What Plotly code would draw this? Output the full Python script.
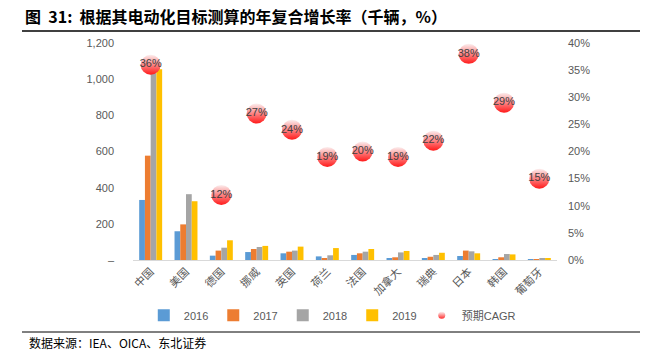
import plotly.graph_objects as go

countries = ["中国", "美国", "德国", "挪威", "英国", "荷兰", "法国", "加拿大", "瑞典", "日本", "韩国", "葡萄牙"]
sales_2016 = [332, 159, 24, 44, 37, 20, 28, 11, 11, 22, 5, 0.8]
sales_2017 = [577, 197, 52, 61, 46, 8, 37, 15, 18, 52, 15, 1.5]
sales_2018 = [1085, 364, 68, 72, 52, 26, 46, 42, 28, 48, 33, 9]
sales_2019 = [1055, 325, 109, 78, 74, 66, 61, 50, 40, 37, 31, 11]
cagr = [0.36, 0.12, 0.27, 0.24, 0.19, 0.20, 0.19, 0.22, 0.38, 0.29, 0.15]
cagr_x = ["中国", "德国", "挪威", "英国", "荷兰", "法国", "加拿大", "瑞典", "日本", "韩国", "葡萄牙"]
cagr_labels = ["36%", "12%", "27%", "24%", "19%", "20%", "19%", "22%", "38%", "29%", "15%"]

left_tickvals = [0, 200, 400, 600, 800, 1000, 1200]
left_ticktext = ["–", "200", "400", "600", "800", "1,000", "1,200"]

years = ["2016", "2017", "2018", "2019"]
series = [sales_2016, sales_2017, sales_2018, sales_2019]
colors = ["#5b9bd5", "#ed7d31", "#a5a5a5", "#ffc000"]

font_cjk = "Noto Sans CJK SC"
grey = "#595959"

fig = go.Figure()
for yr, vals, c in zip(years, series, colors):
    fig.add_trace(go.Bar(x=countries, y=vals, name=yr, marker=dict(color=c, line=dict(width=0)),
                         yaxis="y"))

fig.add_trace(go.Scatter(
    x=cagr_x, y=cagr, yaxis="y2", mode="markers+text", showlegend=False,
    text=cagr_labels, textposition="middle center",
    textfont=dict(family="Arial, Liberation Sans", size=11, color="#404040"),
    marker=dict(size=20, color="#fbefef", line=dict(width=0),
                gradient=dict(type="vertical", color="#ff1a1a")),
))
fig.add_trace(go.Scatter(
    x=[None], y=[None], yaxis="y2", mode="markers", name="预期CAGR",
    marker=dict(size=7, color="#fbefef", line=dict(width=0),
                gradient=dict(type="vertical", color="#ff2a2a")),
))

fig.update_layout(
    width=667, height=350,
    margin=dict(l=133, r=110, t=43, b=90),
    paper_bgcolor="white", plot_bgcolor="white",
    barmode="group", bargap=0.35, bargroupgap=0,
    font=dict(family=font_cjk, color=grey, size=11),
    xaxis=dict(type="category", range=[-0.5, len(countries) - 0.5],
               showline=True, linecolor="#d9d9d9", linewidth=1,
               ticks="", tickangle=-45, showgrid=False,
               tickfont=dict(family=font_cjk, size=11, color=grey)),
    yaxis=dict(range=[0, 1200], tickvals=left_tickvals, ticktext=left_ticktext,
               showgrid=False, zeroline=False, showline=False, ticks="",
               ticklabelstandoff=18,
               tickfont=dict(family="Arial, Liberation Sans", size=11, color=grey)),
    yaxis2=dict(range=[0, 0.40], overlaying="y", side="right", tickformat=".0%",
                dtick=0.05, showgrid=False, zeroline=False, showline=False, ticks="",
                ticklabelstandoff=10,
                tickfont=dict(family="Arial, Liberation Sans", size=11, color=grey)),
    legend=dict(orientation="h", x=0.47, xanchor="center", y=-0.255, yanchor="middle",
                font=dict(family="Arial, " + font_cjk, size=11, color=grey),
                itemwidth=30, bgcolor="rgba(0,0,0,0)"),
    title=dict(text="<b>图  31:  根据其电动化目标测算的年复合增长率（千辆，%）</b>",
               x=25 / 667, xanchor="left", xref="container",
               y=1 - 17 / 350, yanchor="middle", yref="container",
               font=dict(family=font_cjk, size=16, color="#000000")),
    shapes=[
        dict(type="line", xref="paper", yref="paper",
             x0=(22 - 133) / 424, x1=(640 - 133) / 424,
             y0=(260 - 31) / 217, y1=(260 - 31) / 217,
             line=dict(color="#000000", width=1.5)),
        dict(type="line", xref="paper", yref="paper",
             x0=(22 - 133) / 424, x1=(640 - 133) / 424,
             y0=(260 - 332) / 217, y1=(260 - 332) / 217,
             line=dict(color="#000000", width=1)),
    ],
    annotations=[
        dict(text="数据来源：IEA、OICA、东北证券", xref="paper", yref="paper",
             x=(27 - 133) / 424, xanchor="left", y=(260 - 342) / 217, yanchor="middle",
             showarrow=False, font=dict(family=font_cjk, size=12, color="#000000")),
    ],
)

fig.write_html("out.html")
